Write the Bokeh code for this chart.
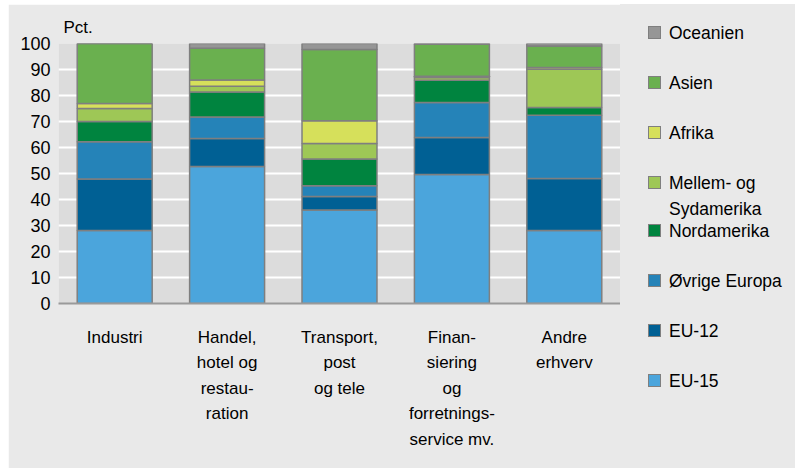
from bokeh.plotting import figure
from bokeh.layouts import row
from bokeh.models import ColumnDataSource, FixedTicker, Div
from bokeh.embed import file_html
from bokeh.resources import INLINE

# ---- data ----
categories = ["Industri",
              "Handel,\nhotel og\nrestau-\nration",
              "Transport,\npost\nog tele",
              "Finan-\nsiering\nog\nforretnings-\nservice mv.",
              "Andre\nerhverv"]
series = ["EU-15", "EU-12", "Øvrige Europa", "Nordamerika",
          "Mellem- og<br>Sydamerika", "Afrika", "Asien", "Oceanien"]
eu15 = [28.1, 52.7, 36.0, 49.6, 28.1]
eu12 = [19.8, 10.8, 5.2, 14.2, 20.0]
ovrige_europa = [14.3, 8.2, 4.1, 13.5, 24.3]
nordamerika = [7.8, 9.6, 10.3, 8.6, 3.0]
mellem_syd = [5.0, 2.3, 5.9, 1.0, 14.7]
afrika = [1.9, 2.4, 8.8, 0.5, 0.7]
asien = [23.1, 12.2, 27.4, 12.3, 8.2]
oceanien = [0.0, 1.8, 2.3, 0.3, 1.0]
colors = ["#4ba5dc", "#006094", "#2583b8", "#00843f",
          "#9ec756", "#d6e05b", "#6ab04f", "#969696"]
y_ticks = list(range(0, 101, 10))

FONT = "Liberation Sans"
BG = "#e9e9e9"
EDGE = "#7f7f7f"

src = ColumnDataSource(dict(cat=categories, s0=eu15, s1=eu12, s2=ovrige_europa,
                            s3=nordamerika, s4=mellem_syd, s5=afrika,
                            s6=asien, s7=oceanien))
keys = ["s%d" % i for i in range(8)]

p = figure(x_range=categories, y_range=(0, 100), width=612, height=464,
           output_backend="svg", toolbar_location=None,
           min_border_left=50, min_border_right=0,
           min_border_top=39, min_border_bottom=165)
p.border_fill_color = BG
p.background_fill_color = "#dcdcdc"
p.outline_line_color = None
p.x_range.range_padding = 0

p.title.text = "Pct."
p.title.align = "left"
p.title.offset = 5
p.title.standoff = 13
p.title.text_font = FONT
p.title.text_font_size = "17px"
p.title.text_font_style = "normal"
p.title.text_color = "black"

rs = p.vbar_stack(keys, x="cat", width=0.667, source=src, color=colors,
                  line_color=EDGE, line_width=1.5)

p.xgrid.grid_line_color = None
p.ygrid.grid_line_color = "white"
p.ygrid.grid_line_width = 2
p.ygrid.ticker = FixedTicker(ticks=y_ticks)

p.yaxis.ticker = FixedTicker(ticks=y_ticks)
p.yaxis.axis_line_color = None
p.yaxis.major_tick_line_color = None
p.yaxis.minor_tick_line_color = None
p.yaxis.major_tick_out = 0
p.yaxis.major_tick_in = 0
p.yaxis.major_label_standoff = 8
p.yaxis.major_label_text_font = FONT
p.yaxis.major_label_text_font_size = "18px"
p.yaxis.major_label_text_color = "black"

p.xaxis.axis_line_color = "#9a9a9a"
p.xaxis.axis_line_width = 2
p.xaxis.major_tick_line_color = None
p.xaxis.minor_tick_line_color = None
p.xaxis.major_tick_out = 0
p.xaxis.major_tick_in = 0
p.xaxis.major_label_standoff = 24
p.xaxis.major_label_text_font = FONT
p.xaxis.major_label_text_font_size = "17px"
p.xaxis.major_label_text_color = "black"
p.xaxis.major_label_text_line_height = 1.35

# ---- legend (HTML panel to the right of the plot) ----
row_centers = [29, 79, 129, 179, 227, 277, 327, 377]   # layout only (px)
parts = []
for k, i in enumerate(range(7, -1, -1)):
    cy = row_centers[k]
    parts.append(
        '<div style="position:absolute;left:28px;top:%dpx;width:13px;height:13px;'
        'background:%s;border:1px solid %s;"></div>' % (cy - 7, colors[i], EDGE))
    parts.append(
        '<div style="position:absolute;left:49px;top:%dpx;line-height:26px;'
        'white-space:nowrap;">%s</div>' % (cy - 13, series[i]))
html = ('<div style="position:relative;width:175px;height:464px;background:%s;'
        'font-family:\'%s\';font-size:17.5px;color:black;">%s</div>'
        % (BG, FONT, "".join(parts)))
legend_panel = Div(text=html, width=175, height=464, margin=0)

layout = row(p, legend_panel, margin=(4, 2, 2, 8), spacing=0)

open("out.html", "w").write(file_html(layout, INLINE))
